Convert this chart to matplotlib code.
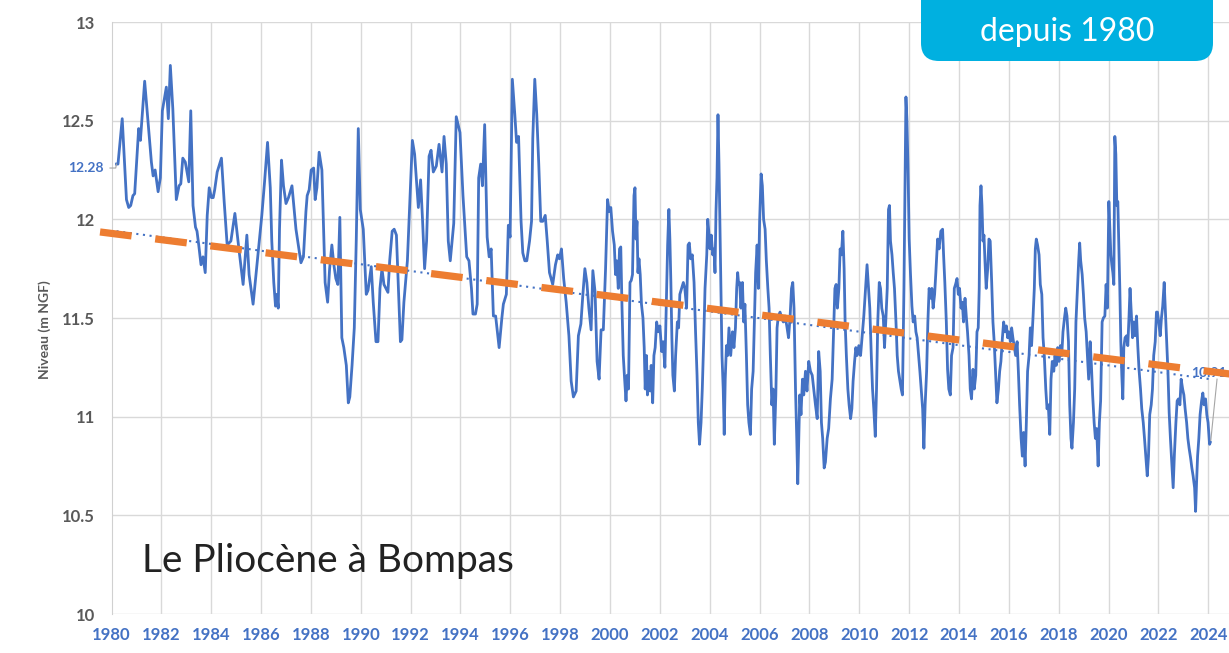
import matplotlib
matplotlib.use('Agg')
import matplotlib.pyplot as plt
import matplotlib.patches as mpatches
from matplotlib.transforms import IdentityTransform
import numpy as np

plt.rcParams['font.family'] = ['Lato', 'DejaVu Sans']

# groundwater level readings (decimal year, m NGF) in segments
years1 = [1980.20, 1980.26, 1980.43, 1980.60, 1980.69, 1980.77, 1980.86, 1980.93, 1981.09, 1981.16,
          1981.33, 1981.49, 1981.60, 1981.67, 1981.75, 1981.87, 1981.96, 1982.04, 1982.20, 1982.28,
          1982.36, 1982.46, 1982.60, 1982.71, 1982.78, 1982.86, 1982.96, 1983.10, 1983.18, 1983.27,
          1983.37, 1983.43, 1983.50, 1983.59, 1983.67, 1983.76, 1983.84, 1983.92, 1984.01, 1984.08,
          1984.14, 1984.24, 1984.41, 1984.52, 1984.64, 1984.79, 1984.95, 1985.12, 1985.28, 1985.43,
          1985.52, 1985.68]
levels1 = [12.28, 12.28, 12.51, 12.10, 12.06, 12.07, 12.12, 12.13, 12.46, 12.40,
           12.70, 12.46, 12.29, 12.22, 12.25, 12.14, 12.21, 12.55, 12.67, 12.51,
           12.78, 12.56, 12.10, 12.17, 12.18, 12.31, 12.29, 12.19, 12.55, 12.07,
           11.96, 11.94, 11.87, 11.77, 11.81, 11.73, 12.02, 12.16, 12.11, 12.11,
           12.15, 12.24, 12.31, 12.09, 11.87, 11.89, 12.03, 11.84, 11.67, 11.92,
           11.72, 11.57]

years2 = [1985.90, 1986.03, 1986.14, 1986.26, 1986.37, 1986.43, 1986.51, 1986.58, 1986.63, 1986.69,
          1986.74, 1986.82, 1986.90, 1987.00, 1987.10, 1987.24, 1987.40, 1987.60, 1987.70, 1987.80,
          1987.85, 1987.93, 1988.01, 1988.11, 1988.17, 1988.24, 1988.33, 1988.44, 1988.57, 1988.67,
          1988.75, 1988.84, 1988.92, 1989.00, 1989.08, 1989.16, 1989.24, 1989.32, 1989.42, 1989.50,
          1989.56, 1989.65, 1989.74, 1989.82, 1989.90, 1989.98, 1990.10, 1990.22, 1990.29, 1990.42,
          1990.50, 1990.61, 1990.69, 1990.77, 1990.85, 1990.93]
levels2 = [11.85, 12.02, 12.19, 12.39, 12.16, 11.89, 11.68, 11.56, 11.62, 11.55,
           11.95, 12.30, 12.17, 12.08, 12.11, 12.17, 11.95, 11.78, 11.81, 12.04,
           12.12, 12.15, 12.25, 12.26, 12.10, 12.16, 12.34, 12.25, 11.68, 11.58,
           11.75, 11.87, 11.77, 11.70, 11.67, 12.01, 11.40, 11.35, 11.26, 11.07,
           11.10, 11.26, 11.45, 11.90, 12.46, 12.05, 11.95, 11.62, 11.64, 11.76,
           11.58, 11.38, 11.38, 11.65, 11.75, 11.67]

years3 = [1991.09, 1991.16, 1991.26, 1991.34, 1991.43, 1991.51, 1991.59, 1991.65, 1991.73, 1991.87,
          1991.96, 1992.07, 1992.16, 1992.31, 1992.40, 1992.48, 1992.56, 1992.64, 1992.74, 1992.82,
          1992.91, 1993.03, 1993.14, 1993.26, 1993.34, 1993.43, 1993.51, 1993.59, 1993.73, 1993.83,
          1993.98, 1994.10, 1994.25, 1994.34, 1994.44, 1994.50, 1994.60, 1994.67, 1994.73, 1994.81,
          1994.88, 1994.97, 1995.07, 1995.15, 1995.23, 1995.32, 1995.41, 1995.55, 1995.66, 1995.72,
          1995.84, 1995.92, 1995.99, 1996.08, 1996.18, 1996.25, 1996.33]
levels3 = [11.63, 11.79, 11.94, 11.95, 11.92, 11.65, 11.38, 11.39, 11.58, 11.79,
           12.07, 12.40, 12.33, 12.06, 12.20, 11.99, 11.75, 11.89, 12.32, 12.35,
           12.24, 12.27, 12.38, 12.24, 12.42, 12.28, 11.89, 11.79, 11.98, 12.52,
           12.44, 12.12, 11.81, 11.79, 11.65, 11.52, 11.52, 11.57, 12.21, 12.28,
           12.17, 12.48, 11.91, 11.81, 11.85, 11.51, 11.51, 11.35, 11.50, 11.57,
           11.62, 11.97, 11.91, 12.71, 12.53, 12.39, 12.42]

years4 = [1996.43, 1996.50, 1996.58, 1996.66, 1996.77, 1996.85, 1996.90, 1996.98, 1997.06, 1997.14,
          1997.22, 1997.30, 1997.40, 1997.48, 1997.57, 1997.70, 1997.81, 1997.90, 1997.97, 1998.05,
          1998.14, 1998.24, 1998.35, 1998.44, 1998.53, 1998.64, 1998.73, 1998.83, 1998.91, 1998.99,
          1999.07, 1999.15, 1999.24, 1999.31, 1999.40, 1999.48, 1999.56, 1999.64, 1999.73, 1999.82,
          1999.90, 1999.97, 2000.03, 2000.10, 2000.17, 2000.22, 2000.27, 2000.33, 2000.38, 2000.43,
          2000.48, 2000.53, 2000.58, 2000.64, 2000.69, 2000.74, 2000.80, 2000.85, 2000.90, 2000.96]
levels4 = [11.99, 11.83, 11.79, 11.79, 11.89, 11.99, 12.41, 12.71, 12.53, 12.28,
           11.99, 11.99, 12.02, 11.89, 11.73, 11.67, 11.77, 11.82, 11.80, 11.85,
           11.70, 11.58, 11.41, 11.18, 11.10, 11.13, 11.41, 11.47, 11.62, 11.75,
           11.68, 11.55, 11.44, 11.74, 11.63, 11.28, 11.19, 11.44, 11.44, 11.75,
           12.10, 12.04, 12.06, 11.94, 11.87, 11.72, 11.79, 11.65, 11.85, 11.86,
           11.55, 11.31, 11.20, 11.08, 11.21, 11.14, 11.68, 11.69, 11.72, 12.12]

years5 = [2001.00, 2001.04, 2001.08, 2001.12, 2001.16, 2001.21, 2001.26, 2001.32, 2001.37, 2001.41,
          2001.46, 2001.50, 2001.56, 2001.61, 2001.65, 2001.71, 2001.76, 2001.81, 2001.87, 2001.93,
          2002.00, 2002.07, 2002.13, 2002.20, 2002.26, 2002.31, 2002.36, 2002.40, 2002.44, 2002.48,
          2002.52, 2002.58, 2002.63, 2002.70, 2002.75, 2002.80, 2002.87, 2002.94, 2003.00, 2003.07,
          2003.13, 2003.18, 2003.23, 2003.30, 2003.37, 2003.43, 2003.49, 2003.54, 2003.59, 2003.65,
          2003.70, 2003.76, 2003.81, 2003.88, 2003.92, 2003.96, 2004.01, 2004.06, 2004.12, 2004.17,
          2004.21, 2004.25, 2004.29, 2004.33, 2004.37, 2004.41, 2004.45, 2004.49, 2004.54, 2004.58,
          2004.62, 2004.67, 2004.72, 2004.77, 2004.84, 2004.91, 2004.97]
levels5 = [12.16, 11.90, 11.99, 11.73, 11.80, 11.72, 11.57, 11.50, 11.35, 11.14,
           11.31, 11.11, 11.23, 11.13, 11.26, 11.07, 11.31, 11.35, 11.48, 11.43,
           11.46, 11.33, 11.38, 11.25, 11.58, 11.87, 12.05, 11.90, 11.68, 11.40,
           11.21, 11.13, 11.31, 11.48, 11.45, 11.62, 11.65, 11.68, 11.65, 11.55,
           11.87, 11.88, 11.80, 11.82, 11.68, 11.43, 11.21, 10.97, 10.86, 10.97,
           11.14, 11.40, 11.65, 11.82, 12.00, 11.94, 11.85, 11.92, 11.82, 11.85,
           11.73, 12.04, 12.21, 12.53, 12.28, 11.95, 11.65, 11.31, 11.14, 10.91,
           11.19, 11.36, 11.31, 11.45, 11.31, 11.43, 11.35]

years6 = [2005.03, 2005.08, 2005.12, 2005.16, 2005.20, 2005.25, 2005.31, 2005.36, 2005.41, 2005.47,
          2005.52, 2005.57, 2005.63, 2005.68, 2005.74, 2005.79, 2005.84, 2005.90, 2005.95, 2006.00,
          2006.06, 2006.11, 2006.16, 2006.22, 2006.27, 2006.33, 2006.38, 2006.43, 2006.49, 2006.54,
          2006.59, 2006.65, 2006.70, 2006.75, 2006.82, 2006.89, 2006.95, 2007.02, 2007.09, 2007.16,
          2007.22, 2007.28, 2007.33, 2007.38, 2007.44, 2007.49, 2007.53, 2007.57, 2007.61, 2007.66,
          2007.72, 2007.77, 2007.84, 2007.90, 2007.97, 2008.04, 2008.11, 2008.17, 2008.24, 2008.31,
          2008.37, 2008.43, 2008.48, 2008.53, 2008.59, 2008.64, 2008.71, 2008.77, 2008.84, 2008.91,
          2008.96, 2009.02, 2009.07, 2009.12, 2009.18, 2009.23, 2009.28, 2009.34, 2009.39, 2009.43,
          2009.48, 2009.54, 2009.59, 2009.65, 2009.70, 2009.75, 2009.81, 2009.86, 2009.91, 2009.98]
levels6 = [11.45, 11.65, 11.73, 11.67, 11.68, 11.55, 11.68, 11.48, 11.57, 11.31,
           11.06, 10.97, 10.91, 11.14, 11.23, 11.48, 11.73, 11.87, 11.65, 11.99,
           12.23, 12.17, 12.00, 11.95, 11.79, 11.65, 11.55, 11.31, 11.06, 11.14,
           10.86, 11.11, 11.45, 11.51, 11.53, 11.50, 11.48, 11.51, 11.46, 11.40,
           11.50, 11.65, 11.68, 11.55, 11.14, 10.89, 10.66, 10.89, 11.11, 11.01,
           11.19, 11.11, 11.23, 11.13, 11.28, 11.23, 11.21, 11.14, 11.06, 10.99,
           11.33, 11.23, 10.97, 10.89, 10.74, 10.77, 10.89, 10.94, 11.09, 11.19,
           11.40, 11.65, 11.67, 11.55, 11.65, 11.85, 11.82, 11.94, 11.75, 11.48,
           11.31, 11.14, 11.06, 10.99, 11.04, 11.18, 11.28, 11.35, 11.31, 11.36]

years7 = [2010.05, 2010.11, 2010.18, 2010.25, 2010.31, 2010.37, 2010.42, 2010.48, 2010.53, 2010.58,
          2010.64, 2010.69, 2010.74, 2010.80, 2010.85, 2010.90, 2010.96, 2011.01, 2011.06, 2011.12,
          2011.17, 2011.21, 2011.25, 2011.31, 2011.36, 2011.41, 2011.47, 2011.52, 2011.57, 2011.63,
          2011.68, 2011.73, 2011.79, 2011.83, 2011.87, 2011.91, 2011.95, 2012.00, 2012.05, 2012.11,
          2012.16, 2012.22, 2012.27, 2012.32, 2012.38, 2012.43, 2012.48, 2012.54, 2012.59, 2012.64,
          2012.70, 2012.75, 2012.80, 2012.86, 2012.91, 2012.96, 2013.02, 2013.07, 2013.14, 2013.20,
          2013.27, 2013.34, 2013.38, 2013.43, 2013.49, 2013.54, 2013.59, 2013.65, 2013.70, 2013.76,
          2013.81, 2013.86, 2013.92, 2013.97, 2014.02, 2014.08, 2014.13, 2014.18, 2014.24, 2014.29,
          2014.34, 2014.40, 2014.45, 2014.50, 2014.56, 2014.61, 2014.67, 2014.72, 2014.77, 2014.81,
          2014.84, 2014.88, 2014.92, 2014.96]
levels7 = [11.31, 11.40, 11.51, 11.65, 11.77, 11.65, 11.55, 11.31, 11.14, 11.04,
           10.90, 11.14, 11.48, 11.68, 11.65, 11.55, 11.51, 11.35, 11.48, 11.65,
           12.05, 12.07, 11.89, 11.82, 11.73, 11.65, 11.48, 11.31, 11.23, 11.18,
           11.14, 11.11, 11.65, 12.16, 12.62, 12.50, 12.28, 11.90, 11.73, 11.56,
           11.48, 11.51, 11.43, 11.40, 11.31, 11.23, 11.14, 11.04, 10.84, 11.06,
           11.23, 11.48, 11.65, 11.60, 11.65, 11.55, 11.62, 11.73, 11.90, 11.85,
           11.94, 11.95, 11.82, 11.68, 11.48, 11.24, 11.14, 11.11, 11.31, 11.35,
           11.65, 11.67, 11.70, 11.62, 11.65, 11.55, 11.58, 11.48, 11.60, 11.51,
           11.43, 11.31, 11.14, 11.09, 11.24, 11.14, 11.21, 11.43, 11.45, 11.65,
           12.07, 12.17, 12.07, 11.89]

years8 = [2015.00, 2015.04, 2015.09, 2015.15, 2015.20, 2015.25, 2015.31, 2015.36, 2015.41, 2015.47,
          2015.52, 2015.58, 2015.63, 2015.68, 2015.74, 2015.79, 2015.84, 2015.90, 2015.95, 2016.00,
          2016.06, 2016.11, 2016.16, 2016.22, 2016.27, 2016.33, 2016.38, 2016.43, 2016.49, 2016.54,
          2016.59, 2016.65, 2016.70, 2016.75, 2016.81, 2016.86, 2016.91, 2016.97, 2017.02, 2017.06,
          2017.10, 2017.15, 2017.21, 2017.26, 2017.32, 2017.37, 2017.42, 2017.48, 2017.53, 2017.58,
          2017.64, 2017.69, 2017.74, 2017.80, 2017.85, 2017.90, 2017.96, 2018.01, 2018.07, 2018.12,
          2018.17, 2018.23, 2018.28, 2018.33, 2018.39, 2018.44, 2018.49, 2018.53, 2018.59, 2018.64,
          2018.69, 2018.75, 2018.80, 2018.84, 2018.88, 2018.94, 2018.99, 2019.04, 2019.10, 2019.15,
          2019.20, 2019.26, 2019.31, 2019.36, 2019.42, 2019.47, 2019.52, 2019.58, 2019.63, 2019.68,
          2019.74, 2019.79, 2019.85, 2019.90, 2019.95]
levels8 = [11.92, 11.79, 11.65, 11.75, 11.90, 11.89, 11.68, 11.48, 11.38, 11.21,
           11.07, 11.14, 11.23, 11.28, 11.40, 11.48, 11.43, 11.46, 11.40, 11.43,
           11.38, 11.45, 11.40, 11.35, 11.31, 11.38, 11.23, 11.06, 10.89, 10.80,
           10.92, 10.75, 10.97, 11.23, 11.31, 11.45, 11.36, 11.51, 11.65, 11.85,
           11.90, 11.87, 11.82, 11.67, 11.62, 11.40, 11.31, 11.14, 11.04, 11.06,
           10.91, 11.19, 11.28, 11.23, 11.31, 11.26, 11.35, 11.28, 11.36, 11.31,
           11.43, 11.50, 11.55, 11.51, 11.38, 11.06, 10.89, 10.84, 10.97, 11.14,
           11.48, 11.65, 11.79, 11.88, 11.79, 11.72, 11.62, 11.50, 11.43, 11.31,
           11.19, 11.38, 11.26, 11.11, 10.97, 10.89, 10.94, 10.75, 10.97, 11.08,
           11.48, 11.50, 11.51, 11.67, 11.55]

years9 = [2020.01, 2020.05, 2020.09, 2020.13, 2020.17, 2020.21, 2020.25, 2020.29, 2020.33, 2020.37,
          2020.41, 2020.45, 2020.49, 2020.53, 2020.57, 2020.61, 2020.66, 2020.72, 2020.77, 2020.82,
          2020.86, 2020.90, 2020.96, 2021.01, 2021.06, 2021.12, 2021.17, 2021.22, 2021.28, 2021.33,
          2021.39, 2021.44, 2021.49, 2021.55, 2021.60, 2021.65, 2021.71, 2021.76, 2021.81, 2021.87,
          2021.92, 2021.96, 2022.01, 2022.07, 2022.12, 2022.17, 2022.23, 2022.27, 2022.32, 2022.38,
          2022.43, 2022.48, 2022.54, 2022.59, 2022.64, 2022.70, 2022.75, 2022.80, 2022.86, 2022.91,
          2022.97, 2023.02, 2023.07, 2023.13, 2023.18, 2023.23, 2023.29, 2023.34, 2023.39, 2023.45,
          2023.49, 2023.53, 2023.57, 2023.62, 2023.67, 2023.73, 2023.78, 2023.83, 2023.89, 2023.94,
          2023.99, 2024.05, 2024.08]
levels9 = [12.09, 11.95, 11.82, 11.77, 11.73, 11.67, 12.42, 12.33, 12.07, 12.09,
           11.87, 11.65, 11.38, 11.21, 11.09, 11.35, 11.40, 11.41, 11.36, 11.51,
           11.65, 11.55, 11.40, 11.48, 11.41, 11.51, 11.36, 11.24, 11.14, 11.04,
           10.97, 10.89, 10.80, 10.70, 10.80, 11.01, 11.06, 11.14, 11.31, 11.38,
           11.53, 11.53, 11.48, 11.41, 11.50, 11.56, 11.68, 11.56, 11.40, 11.23,
           11.02, 10.89, 10.75, 10.64, 10.81, 10.97, 11.08, 11.09, 11.06, 11.19,
           11.14, 11.11, 11.04, 10.97, 10.89, 10.84, 10.79, 10.74, 10.70, 10.64,
           10.52, 10.67, 10.80, 10.89, 11.01, 11.08, 11.12, 11.06, 11.09, 11.01,
           10.97, 10.86, 10.87]

# linear trend (dotted) and the hand-drawn orange trend
trend_years = [1980.20, 2024.08]
trend_levels = [11.94, 11.19]
orange_years = [1979.54, 2024.88]
orange_levels = [11.936, 11.216]

start_label = '12.28'
end_label = '10.91'
x_ticks = list(range(1980, 2025, 2))
y_ticks = [10, 10.5, 11, 11.5, 12, 12.5, 13]
y_ticklabels = ['10', '10.5', '11', '11.5', '12', '12.5', '13']

years = np.concatenate([years1, years2, years3, years4, years5, years6, years7, years8, years9])
levels = np.concatenate([levels1, levels2, levels3, levels4, levels5, levels6, levels7, levels8, levels9])

W, H = 1229, 653
fig = plt.figure(figsize=(W / 100, H / 100), dpi=100)
ax = fig.add_axes([111.5 / W, 39 / H, 1 - 111.5 / W, 592 / H])
ax.set_xlim(1980, 2024.83)
ax.set_ylim(10, 13)

ax.set_xticks(x_ticks)
ax.set_xticklabels([str(y) for y in x_ticks], color='#4472C4', fontweight='bold', fontsize=12)
ax.set_yticks(y_ticks)
ax.set_yticklabels(y_ticklabels, color='#595959', fontweight='bold', fontsize=12)
ax.tick_params(axis='x', length=0, pad=9)
ax.tick_params(axis='y', length=0, pad=12)
ax.grid(True, color='#D9D9D9', lw=1.0)
ax.set_axisbelow(True)
for side in ['top', 'right', 'bottom']:
    ax.spines[side].set_visible(False)
ax.spines['left'].set_color('#D0D0D0')

# series
ax.plot(years, levels, color='#4472C4', lw=2.0, zorder=3, solid_joinstyle='round')
ax.plot(trend_years, trend_levels, color='#4472C4', lw=1.5, ls=(0, (1, 2.2)), zorder=4)

# data labels with leader lines
ax.plot([1979.94, years[0] - 0.03, years[0]], [12.26, 12.26, levels[0]],
        color='#A6A6A6', lw=0.8, clip_on=False, zorder=4)
ax.plot([years[-1] + 0.02, 2024.35], [levels[-1] + 0.01, 11.19],
        color='#A6A6A6', lw=0.8, clip_on=False, zorder=4)
ax.text(104 / W, 1 - 168 / H, start_label, transform=fig.transFigure, ha='right', va='center',
        color='#4472C4', fontsize=10, fontweight='bold')
ax.text(1227 / W, 1 - 373 / H, end_label, transform=fig.transFigure, ha='right', va='center',
        color='#4472C4', fontsize=10, fontweight='bold', zorder=5)

# orange dashed trend drawn over everything
ax.plot(orange_years, orange_levels, color='#ED7D31', lw=5.2, dashes=(4.4, 3.3),
        dash_capstyle='butt', clip_on=False, zorder=10)

fig.text(45 / W, 1 - 330 / H, 'Niveau (m NGF)', rotation=90, ha='center', va='center',
         fontsize=10, fontweight='bold', color='#595959')

fig.text(142 / W, 1 - 572 / H, 'Le Pliocène à Bompas', fontsize=28, color='#222222', va='baseline')

# blue call-out box at top right
box = mpatches.FancyBboxPatch((921, H - 61), 292, 120, boxstyle='round,pad=0,rounding_size=18',
                              transform=IdentityTransform(), fc='#00B0E0', ec='none', zorder=20)
fig.add_artist(box)
fig.text(1067 / W, 1 - 41 / H, 'depuis 1980', ha='center', va='baseline', color='white',
         fontsize=23, zorder=21)

fig.savefig('out.png', dpi=100)
